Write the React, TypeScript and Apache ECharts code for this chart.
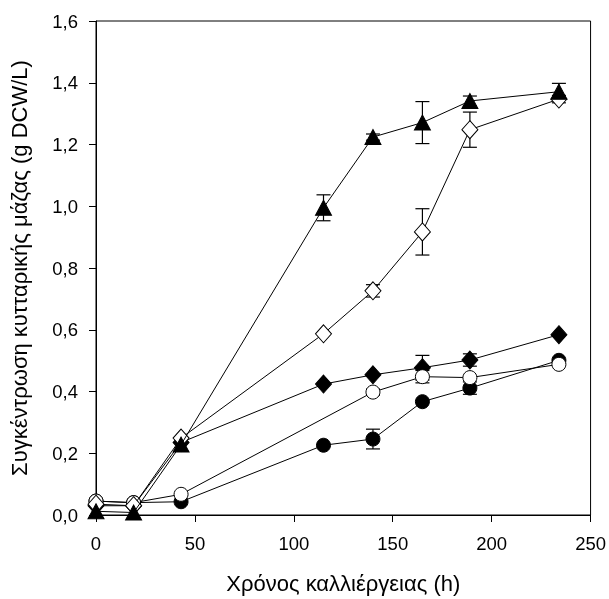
import React, { useEffect, useRef } from "react";
import * as echarts from "echarts";

const times = [0, 19, 43, 115, 140, 165, 189, 234];
const filledCircle = [0.045, 0.04, 0.043, 0.226, 0.246, 0.367, 0.411, 0.501];
const openCircle = [0.045, 0.04, 0.067, null, 0.398, 0.448, 0.445, 0.488];
const filledDiamond = [0.03, 0.03, 0.235, 0.424, 0.454, 0.477, 0.502, 0.584];
const openDiamond = [0.035, 0.03, 0.249, 0.587, 0.726, 0.917, 1.248, 1.347];
const filledTriangle = [0.012, 0.008, 0.228, 0.995, 1.224, 1.271, 1.341, 1.371];

const errFilledCircle = [0, 0, 0, 0, 0.032, 0, 0.02, 0];
const errOpenCircle = [0, 0, 0, 0, 0.01, 0.02, 0, 0];
const errFilledDiamond = [0, 0, 0, 0, 0, 0.04, 0.02, 0];
const errOpenDiamond = [0, 0, 0, 0, 0.02, 0.075, 0.057, 0.012];
const errTriangle = [0, 0, 0, 0.042, 0.01, 0.068, 0.016, 0.027];

const xTitle = "Χρόνος καλλιέργειας (h)";
const yTitle = "Συγκέντρωση κυτταρικής μάζας (g DCW/L)";

function pairs(vals: (number | null)[]) {
  const out: [number, number][] = [];
  vals.forEach((v, i) => {
    if (v !== null) out.push([times[i], v]);
  });
  return out;
}

function errData(vals: (number | null)[], errs: number[]) {
  const out: [number, number, number][] = [];
  vals.forEach((v, i) => {
    if (v !== null && errs[i] > 0) out.push([times[i], v - errs[i], v + errs[i]]);
  });
  return out;
}

const FONT = "'Liberation Sans', Arial, sans-serif";
const TITLE_FONT = "'Liberation Sans', Arial, sans-serif";

export default function App() {
  const ref = useRef<HTMLDivElement>(null);
  useEffect(() => {
    if (!ref.current) return;
    const chart = echarts.init(ref.current, null, { renderer: "svg" });

    const errSeries = (vals: (number | null)[], errs: number[]) => ({
      type: "custom",
      clip: false,
      z: 1,
      data: errData(vals, errs),
      renderItem: (params: any, api: any) => {
        const x = api.value(0);
        const lo = api.coord([x, api.value(1)]);
        const hi = api.coord([x, api.value(2)]);
        const cw = 7;
        const st = { stroke: "#000", lineWidth: 1.2 };
        return {
          type: "group",
          children: [
            { type: "line", shape: { x1: lo[0], y1: lo[1], x2: hi[0], y2: hi[1] }, style: st },
            { type: "line", shape: { x1: lo[0] - cw, y1: lo[1], x2: lo[0] + cw, y2: lo[1] }, style: st },
            { type: "line", shape: { x1: hi[0] - cw, y1: hi[1], x2: hi[0] + cw, y2: hi[1] }, style: st },
          ],
        };
      },
    });

    const lineSeries = (vals: (number | null)[], symbol: string, size: any, filled: boolean, z: number) => ({
      type: "line",
      data: pairs(vals),
      symbol,
      symbolSize: size,
      showAllSymbol: true,
      clip: false,
      z,
      lineStyle: { color: "#000", width: 1 },
      itemStyle: { color: filled ? "#000" : "#fff", borderColor: "#000", borderWidth: 1 },
      emphasis: { disabled: true },
    });

    chart.setOption({
      animation: false,
      grid: { left: 95, right: 17, top: 21, bottom: 82, show: true, borderColor: "#000", borderWidth: 1 },
      xAxis: {
        type: "value",
        min: 0,
        max: 250,
        interval: 50,
        name: xTitle,
        nameLocation: "middle",
        nameGap: 57,
        nameTextStyle: { fontFamily: TITLE_FONT, fontSize: 22, color: "#000" },
        axisLine: { show: true, onZero: false, lineStyle: { color: "#000", width: 1 } },
        axisTick: { show: true, inside: false, length: 7, lineStyle: { color: "#000" } },
        axisLabel: { margin: 19, fontFamily: FONT, fontSize: 18.5, color: "#000" },
        splitLine: { show: false },
      },
      yAxis: {
        type: "value",
        min: 0,
        max: 1.6,
        interval: 0.2,
        name: yTitle,
        nameLocation: "middle",
        nameGap: 66,
        nameTextStyle: { fontFamily: TITLE_FONT, fontSize: 22, color: "#000" },
        axisLine: { show: true, onZero: false, lineStyle: { color: "#000", width: 1 } },
        axisTick: { show: true, inside: false, length: 7, lineStyle: { color: "#000" } },
        axisLabel: {
          margin: 18,
          fontFamily: FONT,
          fontSize: 18.5,
          color: "#000",
          formatter: (v: number) => v.toFixed(1).replace(".", ","),
        },
        splitLine: { show: false },
      },
      series: [
        errSeries(filledDiamond, errFilledDiamond),
        errSeries(filledCircle, errFilledCircle),
        errSeries(openCircle, errOpenCircle),
        errSeries(openDiamond, errOpenDiamond),
        errSeries(filledTriangle, errTriangle),
        lineSeries(filledDiamond, "diamond", [16, 18], true, 2),
        lineSeries(filledCircle, "circle", 14, true, 3),
        lineSeries(openCircle, "circle", 14, false, 4),
        lineSeries(openDiamond, "diamond", [16, 18], false, 5),
        lineSeries(filledTriangle, "triangle", [16, 15], true, 6),
      ],
    });
    return () => chart.dispose();
  }, []);
  return <div ref={ref} style={{ position: "fixed", left: 0, top: 0, width: 609, height: 599 }} />;
}
